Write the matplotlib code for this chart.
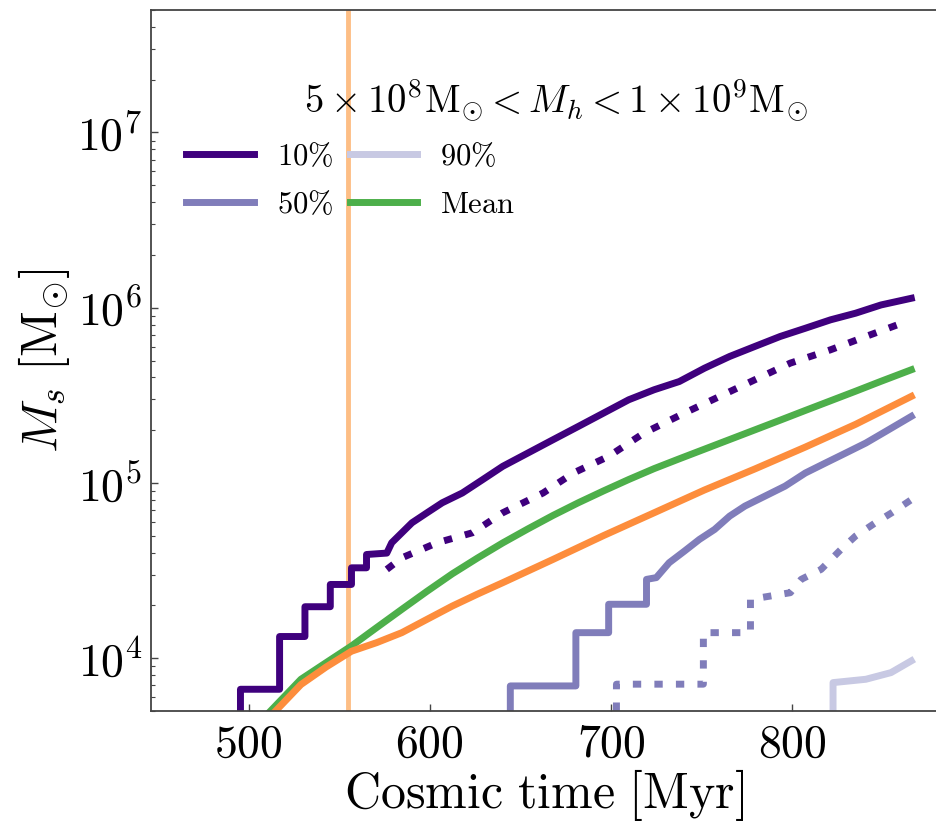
import matplotlib
matplotlib.use('Agg')
import matplotlib.pyplot as plt
from matplotlib.ticker import FuncFormatter
import numpy as np

plt.rcParams['mathtext.fontset'] = 'cm'

# cosmic time [Myr] and log10 stellar mass [Msun]
# (repeated times are the vertical jumps of the step-like percentiles)
t_p10 = [495.4, 495.4, 517, 517, 531, 531, 545, 545, 556.7, 556.7, 565, 565, 576.2, 578.9, 584.5,
         590.1, 598.4, 606.8, 617.9, 629.1, 640.2, 654.1, 668.0, 682.0, 695.9, 709.8, 723.8, 737.7,
         751.6, 765.5, 779.4, 793.4, 807.3, 821.2, 835.1, 849.1, 865.8]
m_p10 = [3.60, 3.823, 3.823, 4.124, 4.124, 4.294, 4.294, 4.421, 4.421, 4.516, 4.516, 4.592, 4.600,
         4.659, 4.716, 4.773, 4.830, 4.887, 4.943, 5.019, 5.095, 5.171, 5.247, 5.323, 5.399, 5.475,
         5.532, 5.579, 5.655, 5.722, 5.779, 5.836, 5.883, 5.931, 5.969, 6.016, 6.054]

t_p10_alt = [576.2, 584.5, 604.0, 623.5, 640.2, 662.5, 679.2, 698.7, 718.2, 740.5, 760.0, 779.4,
             799.0, 821.2, 840.7, 863.0]
m_p10_alt = [4.507, 4.573, 4.659, 4.716, 4.830, 4.943, 5.057, 5.152, 5.285, 5.399, 5.494, 5.589,
             5.684, 5.760, 5.836, 5.921]

t_p50 = [644.4, 644.4, 680.6, 680.6, 698.7, 698.7, 719.6, 719.6, 725.0, 732.1, 740.5, 748.8, 757.2,
         765.5, 773.9, 785.0, 796.1, 807.3, 818.4, 829.6, 840.7, 851.8, 865.8]
m_p50 = [3.60, 3.842, 3.842, 4.146, 4.146, 4.308, 4.308, 4.450, 4.460, 4.545, 4.611, 4.678, 4.735,
         4.811, 4.868, 4.925, 4.982, 5.057, 5.114, 5.171, 5.228, 5.295, 5.380]

t_p50_alt = [703.0, 703.0, 751.0, 751.0, 777.0, 777.0, 799.0, 805.0, 816.0, 827.0, 835.0, 846.0,
             855.0, 866.0]
m_p50_alt = [3.70, 3.852, 3.852, 4.146, 4.146, 4.336, 4.374, 4.450, 4.507, 4.621, 4.697, 4.773,
             4.830, 4.906]

t_p90 = [822.6, 822.6, 840.7, 854.6, 865.8]
m_p90 = [3.60, 3.861, 3.880, 3.918, 3.985]

t_mean = [512.1, 528.8, 542.7, 556.7, 570.6, 584.5, 598.4, 612.4, 626.3, 640.2, 654.1, 668.0, 681.9,
          695.9, 709.8, 723.8, 737.7, 751.6, 765.5, 779.4, 793.3, 807.3, 821.2, 835.1, 849.0, 865.8]
m_mean = [3.70, 3.880, 3.975, 4.070, 4.175, 4.279, 4.382, 4.482, 4.572, 4.658, 4.738, 4.815, 4.887,
          4.955, 5.020, 5.082, 5.138, 5.193, 5.248, 5.303, 5.358, 5.414, 5.469, 5.524, 5.580, 5.646]

t_mean_alt = [514.9, 528.8, 542.7, 556.7, 570.6, 584.5, 598.4, 612.4, 626.3, 640.2, 668.0, 695.9,
              723.8, 751.6, 779.4, 807.3, 835.1, 865.8]
m_mean_alt = [3.70, 3.850, 3.950, 4.040, 4.089, 4.146, 4.222, 4.298, 4.366, 4.431, 4.564, 4.700,
              4.830, 4.960, 5.080, 5.205, 5.335, 5.494]

t_mark = 554.7

c_dark = '#3f007d'
c_mid = '#807dba'
c_light = '#c8c9e3'
c_green = '#4daf4a'
c_orange = '#fd8d3c'

fig = plt.figure(figsize=(9.37, 8.32), dpi=100)
ax = fig.add_axes([151/937, 1-711/832, 1-151/937, 701/832])

lw = 5
dots = (0, (1.2, 1.9))
ax.axvline(t_mark, color='#fdbe85', lw=3.5, zorder=1)
ax.plot(t_p10, 10**np.array(m_p10), color=c_dark, lw=lw, label=r'$10\%$')
ax.plot(t_p10_alt, 10**np.array(m_p10_alt), color=c_dark, lw=lw, ls=dots)
ax.plot(t_p50, 10**np.array(m_p50), color=c_mid, lw=lw, label=r'$50\%$')
ax.plot(t_p50_alt, 10**np.array(m_p50_alt), color=c_mid, lw=lw, ls=dots)
ax.plot(t_p90, 10**np.array(m_p90), color=c_light, lw=lw, label=r'$90\%$')
ax.plot(t_mean, 10**np.array(m_mean), color=c_green, lw=lw, label=r'$\mathrm{Mean}$')
ax.plot(t_mean_alt, 10**np.array(m_mean_alt), color=c_orange, lw=lw)

ax.set_yscale('log')
ax.set_xlim(446, 880)
ax.set_ylim(5e3, 5e7)
ax.set_xticks([500, 600, 700, 800])
ax.xaxis.set_major_formatter(FuncFormatter(lambda v, p: r'$%d$' % v))
ax.yaxis.set_major_formatter(FuncFormatter(lambda v, p: r'$10^{%d}$' % round(np.log10(v))))
ax.tick_params(which='both', direction='in', labelsize=33, color='#444444')
ax.tick_params(which='major', length=5, width=1)
ax.tick_params(which='minor', length=3, width=0.8)
ax.tick_params(axis='x', pad=8)
ax.tick_params(axis='y', pad=6)
for s in ax.spines.values():
    s.set_color('#444444')
    s.set_linewidth(1.3)
ax.spines['right'].set_visible(False)

ax.set_xlabel(r'$\mathrm{Cosmic\ time\ [Myr]}$', fontsize=36, labelpad=0)
ax.set_ylabel(r'$M_s\ [\mathrm{M}_{\odot}]$', fontsize=36, labelpad=4)

ax.text(0.515, 0.872, r'$5\times10^8\mathrm{M}_{\odot}<M_h<1\times10^9\mathrm{M}_{\odot}$',
        transform=ax.transAxes, ha='center', va='center', fontsize=28)
ax.legend(ncol=2, loc='upper left', bbox_to_anchor=(0.045, 0.812), frameon=False,
          fontsize=22, handlelength=2.2, handletextpad=0.75, columnspacing=0.55,
          labelspacing=0.63, borderpad=0, borderaxespad=0)

fig.savefig('out.png', dpi=100)
